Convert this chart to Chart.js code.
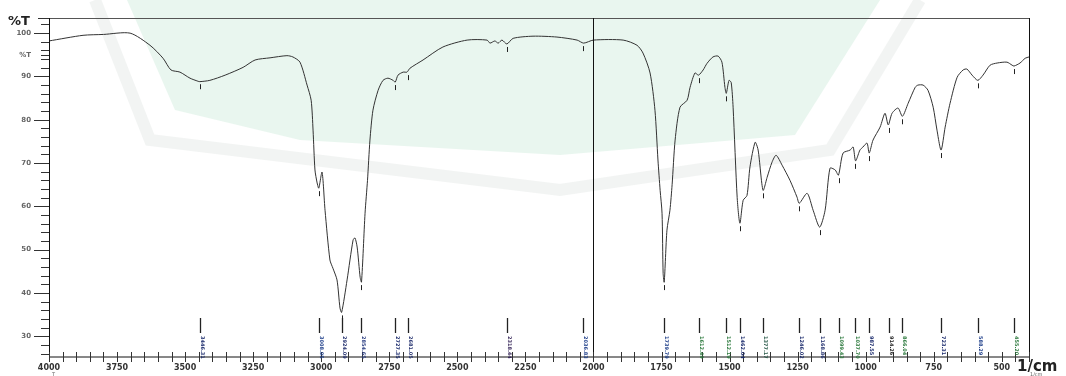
<!DOCTYPE html>
<html>
<head>
<meta charset="utf-8">
<script src="https://cdn.jsdelivr.net/npm/chart.js@4.4.1/dist/chart.umd.min.js"></script>
<style>
  html, body { margin: 0; padding: 0; background: #fff; }
  #wrap { width: 1066px; height: 376px; position: relative; }
</style>
</head>
<body>
<div id="wrap"><canvas id="grafico"></canvas></div>
<script>
// espectro IR: numero de onda (1/cm) y transmitancia (%T)
var numeroOnda = [4000, 3875, 3800, 3702, 3629, 3581, 3552, 3519, 3482, 3453, 3446, 3409, 3353, 3287, 3243, 3188, 3126, 3104, 3078, 3052,
    3037, 3030, 3023, 3015, 3009, 2997, 2986, 2968, 2957, 2942, 2931, 2925, 2905, 2883, 2876, 2868, 2857, 2852, 2839, 2830,
    2821, 2810, 2791, 2773, 2755, 2736, 2728, 2718, 2699, 2685, 2674, 2626, 2553, 2464, 2391, 2380, 2362, 2350, 2336, 2318,
    2295, 2222, 2134, 2060, 2036, 2000, 1891, 1840, 1818, 1792, 1774, 1763, 1755, 1748, 1744, 1740, 1730, 1719, 1711, 1700,
    1682, 1656, 1645, 1627, 1614, 1597, 1583, 1561, 1542, 1528, 1517, 1512, 1502, 1494, 1487, 1472, 1462, 1450, 1436, 1425,
    1406, 1395, 1377, 1362, 1344, 1329, 1307, 1278, 1252, 1244, 1215, 1193, 1169, 1149, 1131, 1112, 1100, 1083, 1057, 1046,
    1037, 1021, 1010, 995, 987, 973, 947, 929, 917, 903, 881, 865, 844, 818, 808, 789, 771, 752, 738, 723,
    708, 690, 664, 642, 628, 609, 588, 569, 543, 517, 481, 462, 455, 433, 414, 400];
var transmitancia = [98.2, 99.5, 99.7, 100.0, 97.2, 94.2, 91.5, 91.0, 89.6, 88.9, 88.8, 89.1, 90.3, 92.1, 93.8, 94.3, 94.8, 94.5, 93.3, 88.0,
    84.5, 77.6, 68.4, 65.4, 64.2, 67.9, 59.1, 47.6, 45.7, 43.0, 36.5, 35.5, 43.0, 52.2, 52.7, 50.6, 43.6, 42.5, 58.4, 66.0,
    75.3, 82.2, 86.8, 89.1, 89.6, 89.1, 88.7, 90.3, 91.0, 91.0, 91.9, 93.8, 96.8, 98.4, 98.4, 97.7, 98.2, 97.7, 98.4, 97.5,
    98.8, 99.3, 99.1, 98.4, 97.7, 98.4, 98.4, 97.2, 95.4, 90.8, 82.2, 70.7, 63.7, 58.4, 44.5, 42.5, 54.5, 59.1, 65.0, 75.3,
    82.9, 84.5, 87.5, 90.8, 90.3, 91.5, 93.0, 94.5, 94.7, 93.3, 87.5, 86.1, 89.1, 88.6, 82.9, 62.0, 56.1, 61.4, 62.5, 69.1,
    74.8, 73.0, 63.7, 66.7, 70.2, 71.8, 69.5, 66.0, 62.1, 60.7, 63.0, 59.1, 55.2, 59.1, 68.8, 68.4, 67.2, 72.3, 73.0, 73.7,
    70.5, 73.0, 73.7, 74.6, 72.3, 75.3, 78.3, 81.5, 78.8, 81.5, 82.7, 80.8, 83.8, 87.5, 88.0, 88.0, 86.8, 82.9, 77.6, 73.0,
    78.3, 83.8, 89.8, 91.5, 91.7, 90.3, 89.1, 90.3, 92.6, 93.1, 93.3, 92.6, 92.4, 93.1, 94.2, 94.5];

// picos marcados
var picosOnda = [3446.31, 3008.95, 2924.09, 2854.65, 2727.35, 2681.05, 2318.44, 2036.83, 1739.79, 1612.49, 1512.19, 1462.04,
    1377.17, 1246.02, 1168.86, 1099.43, 1037.70, 987.55, 914.26, 866.04, 723.31, 588.29, 455.20];
var picosT = [88.9, 64.2, 35.5, 42.5, 88.7, 91.0, 97.5, 97.7, 42.5, 90.3, 86.1, 56.1,
    63.7, 60.7, 55.2, 67.2, 70.5, 72.3, 78.8, 80.8, 73.0, 89.1, 92.4];

var etiquetasX = [4000, 3750, 3500, 3250, 3000, 2750, 2500, 2250, 2000, 1750, 1500, 1250, 1000, 750, 500];
var etiquetasY = [100, 90, 80, 70, 60, 50, 40, 30];

var coloresPico = ['#1a2a6c', '#1f3f8a', '#23306e', '#2a3c80', '#1a2a6c', '#23306e', '#3a2a5c', '#1f3f8a',
    '#1f3f8a', '#2d7a3e', '#2d7a3e', '#1a2a6c', '#2a5a4a', '#1a2a6c', '#23306e', '#2d7a3e', '#2d7a3e',
    '#1a2a6c', '#222', '#2d7a3e', '#1a2a6c', '#1f3f8a', '#2d7a3e'];

var puntos = numeroOnda.map(function (w, i) { return { x: w, y: transmitancia[i] }; });

var fondo = {
    id: 'fondo',
    beforeDraw: function (chart) {
        var ctx = chart.ctx;
        ctx.save();
        ctx.fillStyle = '#ffffff';
        ctx.fillRect(0, 0, chart.width, chart.height);
        // marca de agua verde suave
        ctx.fillStyle = 'rgba(228,244,235,0.8)';
        ctx.beginPath();
        ctx.moveTo(127, 0);
        ctx.lineTo(880, 0);
        ctx.lineTo(795, 135);
        ctx.lineTo(560, 155);
        ctx.lineTo(300, 140);
        ctx.lineTo(175, 110);
        ctx.closePath();
        ctx.fill();
        // banda gris clara del logo
        ctx.strokeStyle = 'rgba(236,240,238,0.7)';
        ctx.lineWidth = 12;
        ctx.beginPath();
        ctx.moveTo(95, 0);
        ctx.lineTo(150, 140);
        ctx.lineTo(560, 190);
        ctx.lineTo(830, 150);
        ctx.lineTo(920, 0);
        ctx.stroke();
        ctx.restore();
    }
};

var marco = {
    id: 'marco',
    afterDraw: function (chart) {
        var ctx = chart.ctx;
        var a = chart.chartArea;
        var sx = chart.scales.x, sy = chart.scales.y;
        ctx.save();
        // marco
        ctx.strokeStyle = '#555';
        ctx.lineWidth = 1;
        ctx.beginPath();
        ctx.moveTo(a.left, a.top + 0.5); ctx.lineTo(a.right, a.top + 0.5);
        ctx.stroke();
        ctx.strokeStyle = '#111';
        ctx.beginPath();
        ctx.moveTo(a.left + 0.5, a.top); ctx.lineTo(a.left + 0.5, a.bottom);
        ctx.lineTo(a.right + 0.5, a.bottom); ctx.lineTo(a.right + 0.5, a.top);
        ctx.stroke();
        // linea en 2000
        var x2000 = Math.round(sx.getPixelForValue(2000)) + 0.5;
        ctx.beginPath();
        ctx.moveTo(x2000, a.top); ctx.lineTo(x2000, a.bottom);
        ctx.stroke();

        // ticks eje y
        ctx.strokeStyle = '#333';
        for (var v = 26; v <= 102; v += 2) {
            var py = Math.round(sy.getPixelForValue(v)) + 0.5;
            var largo = (v % 10 === 0) ? 15 : 8;
            ctx.beginPath(); ctx.moveTo(a.left - largo, py); ctx.lineTo(a.left, py); ctx.stroke();
        }
        var p95 = Math.round(sy.getPixelForValue(95)) + 0.5;
        ctx.beginPath(); ctx.moveTo(a.left - 8, p95); ctx.lineTo(a.left, p95); ctx.stroke();
        ctx.beginPath(); ctx.moveTo(a.left - 11, a.top + 0.5); ctx.lineTo(a.left, a.top + 0.5); ctx.stroke();

        // ticks eje x
        for (var w = 4000; w >= 400; w -= 50) {
            var px = Math.round(sx.getPixelForValue(w)) + 0.5;
            ctx.beginPath(); ctx.moveTo(px, a.bottom - 5); ctx.lineTo(px, a.bottom + 5); ctx.stroke();
        }

        // marcas de picos
        ctx.strokeStyle = '#222';
        picosOnda.forEach(function (w, i) {
            var px = Math.round(sx.getPixelForValue(w)) + 0.5;
            var py = sy.getPixelForValue(picosT[i]);
            ctx.lineWidth = 1;
            ctx.beginPath(); ctx.moveTo(px, py + 3); ctx.lineTo(px, py + 8); ctx.stroke();
            ctx.lineWidth = 1.3;
            ctx.beginPath(); ctx.moveTo(px, 318); ctx.lineTo(px, 333); ctx.stroke();
            ctx.save();
            ctx.translate(px + 2, 336);
            ctx.rotate(Math.PI / 2);
            ctx.fillStyle = coloresPico[i];
            ctx.font = 'bold 5px "DejaVu Sans"';
            ctx.textBaseline = 'middle';
            ctx.fillText(w.toFixed(2), 0, 0);
            ctx.restore();
        });

        // titulos de ejes
        ctx.fillStyle = '#222';
        ctx.font = 'bold 13px "DejaVu Sans"';
        ctx.textBaseline = 'alphabetic';
        ctx.textAlign = 'left';
        ctx.fillText('%T', 8, 25);
        ctx.font = 'bold 15px "DejaVu Sans"';
        ctx.fillText('1/cm', 1017, 371);
        ctx.font = '5px "DejaVu Sans"';
        ctx.fillStyle = '#666';
        ctx.fillText('1/cm', 1030, 376);
        ctx.fillText('T', 52, 376);
        ctx.restore();
    }
};

new Chart(document.getElementById('grafico'), {
    type: 'line',
    data: {
        datasets: [{
            data: puntos,
            borderColor: '#333',
            borderWidth: 1,
            pointRadius: 0,
            tension: 0.25,
            fill: false
        }]
    },
    options: {
        responsive: true,
        maintainAspectRatio: false,
        animation: false,
        events: [],
        layout: { padding: { top: 18, right: 37, left: 0, bottom: 0 } },
        plugins: { legend: { display: false }, tooltip: { enabled: false } },
        scales: {
            x: {
                type: 'linear',
                reverse: true,
                min: 400,
                max: 4000,
                afterBuildTicks: function (scale) {
                    scale.ticks = etiquetasX.map(function (v) { return { value: v }; });
                },
                afterFit: function (scale) { scale.height = 19; },
                grid: { drawOnChartArea: false, drawTicks: true, tickLength: 5, tickColor: 'rgba(0,0,0,0)' },
                border: { display: false },
                ticks: {
                    autoSkip: false,
                    maxRotation: 0,
                    padding: 1,
                    color: '#333',
                    font: { family: 'DejaVu Sans', size: 8, weight: 'bold' },
                    callback: function (v) { return String(v); }
                }
            },
            y: {
                type: 'linear',
                min: 25.2,
                max: 103.5,
                afterBuildTicks: function (scale) {
                    var t = etiquetasY.map(function (v) { return { value: v }; });
                    t.push({ value: 95 });
                    scale.ticks = t;
                },
                afterFit: function (scale) { scale.width = 49; },
                grid: { drawOnChartArea: false, drawTicks: true, tickLength: 15, tickColor: 'rgba(0,0,0,0)' },
                border: { display: false },
                ticks: {
                    autoSkip: false,
                    padding: 3,
                    color: '#666',
                    font: { family: 'DejaVu Sans', size: 7, weight: 'bold' },
                    callback: function (v) { return v === 95 ? '%T' : String(v); }
                }
            }
        }
    },
    plugins: [fondo, marco]
});
</script>
</body>
</html>
